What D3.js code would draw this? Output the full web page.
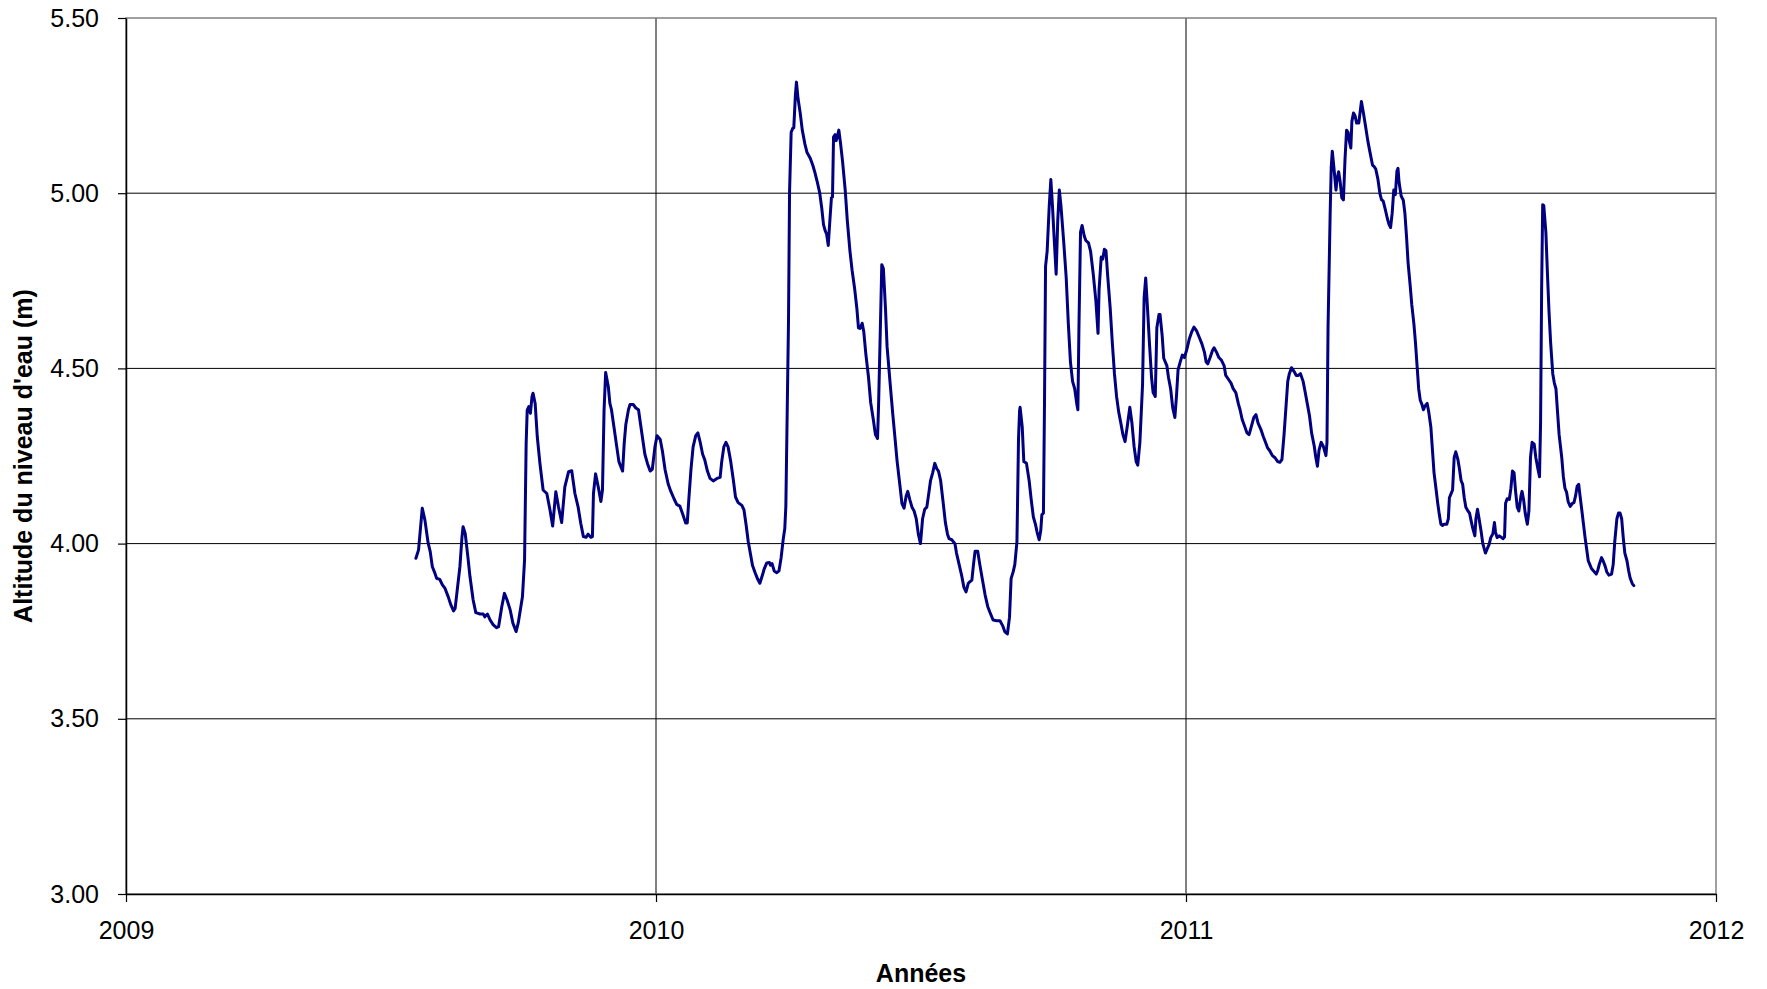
<!DOCTYPE html>
<html><head><meta charset="utf-8">
<script src="https://cdn.jsdelivr.net/npm/d3@7"></script>
<style>html,body{margin:0;padding:0;background:#fff;} svg{display:block;font-family:"Liberation Sans",Arial,sans-serif;}</style>
</head><body><svg id="chart" width="1767" height="989"></svg>
<script>
const dates = [
2009.547,2009.552,2009.559,2009.564,2009.570,2009.574,2009.578,2009.583,2009.586,2009.592,
2009.597,2009.602,2009.608,2009.613,2009.618,2009.621,2009.625,2009.630,2009.634,2009.636,
2009.640,2009.645,2009.649,2009.655,2009.660,2009.668,2009.674,2009.677,2009.682,2009.687,
2009.693,2009.699,2009.703,2009.709,2009.714,2009.719,2009.725,2009.730,2009.736,2009.740,
2009.745,2009.748,2009.752,2009.755,2009.757,2009.760,2009.763,2009.766,2009.768,2009.772,
2009.776,2009.781,2009.787,2009.794,2009.800,2009.805,2009.811,2009.816,2009.822,2009.828,
2009.835,2009.841,2009.847,2009.853,2009.858,2009.863,2009.868,2009.872,2009.877,2009.880,
2009.882,2009.886,2009.891,2009.896,2009.899,2009.902,2009.905,2009.910,2009.913,2009.916,
2009.921,2009.926,2009.930,2009.934,2009.937,2009.940,2009.943,2009.948,2009.951,2009.957,
2009.962,2009.967,2009.971,2009.975,2009.979,2009.984,2009.989,2009.993,2009.998,2010.002,
2010.008,2010.012,2010.017,2010.023,2010.028,2010.034,2010.039,2010.045,2010.050,2010.056,
2010.059,2010.062,2010.066,2010.070,2010.075,2010.079,2010.083,2010.088,2010.092,2010.097,
2010.102,2010.108,2010.115,2010.121,2010.124,2010.128,2010.132,2010.136,2010.141,2010.146,
2010.150,2010.155,2010.162,2010.166,2010.170,2010.174,2010.179,2010.182,2010.187,2010.192,
2010.196,2010.201,2010.204,2010.209,2010.214,2010.216,2010.219,2010.223,2010.228,2010.232,
2010.236,2010.240,2010.243,2010.245,2010.247,2010.250,2010.252,2010.255,2010.258,2010.260,
2010.263,2010.265,2010.268,2010.272,2010.276,2010.281,2010.285,2010.291,2010.296,2010.300,
2010.304,2010.309,2010.313,2010.316,2010.319,2010.322,2010.325,2010.328,2010.331,2010.333,
2010.335,2010.338,2010.340,2010.343,2010.345,2010.348,2010.352,2010.357,2010.361,2010.366,
2010.370,2010.375,2010.379,2010.382,2010.385,2010.389,2010.392,2010.396,2010.401,2010.405,
2010.410,2010.414,2010.418,2010.420,2010.423,2010.426,2010.429,2010.433,2010.436,2010.442,
2010.447,2010.451,2010.455,2010.460,2010.464,2010.468,2010.472,2010.475,2010.479,2010.483,
2010.487,2010.491,2010.495,2010.499,2010.503,2010.507,2010.511,2010.515,2010.518,2010.522,
2010.526,2010.530,2010.533,2010.537,2010.542,2010.546,2010.550,2010.553,2010.558,2010.564,
2010.567,2010.572,2010.577,2010.581,2010.585,2010.589,2010.592,2010.596,2010.599,2010.602,
2010.607,2010.611,2010.616,2010.621,2010.626,2010.630,2010.636,2010.643,2010.649,2010.654,
2010.658,2010.663,2010.667,2010.670,2010.674,2010.677,2010.681,2010.682,2010.684,2010.686,
2010.687,2010.691,2010.694,2010.699,2010.704,2010.708,2010.712,2010.716,2010.719,2010.723,
2010.726,2010.728,2010.731,2010.733,2010.735,2010.738,2010.742,2010.745,2010.748,2010.751,
2010.755,2010.758,2010.761,2010.764,2010.769,2010.774,2010.778,2010.782,2010.786,2010.790,
2010.794,2010.796,2010.798,2010.801,2010.804,2010.808,2010.811,2010.816,2010.820,2010.825,
2010.830,2010.834,2010.836,2010.840,2010.843,2010.846,2010.849,2010.852,2010.857,2010.861,
2010.865,2010.869,2010.873,2010.877,2010.881,2010.885,2010.889,2010.894,2010.898,2010.902,
2010.906,2010.909,2010.913,2010.918,2010.921,2010.924,2010.927,2010.931,2010.935,2010.938,
2010.942,2010.945,2010.949,2010.951,2010.955,2010.958,2010.964,2010.967,2010.971,2010.975,
2010.979,2010.982,2010.985,2010.989,2010.993,2010.997,2011.001,2011.006,2011.011,2011.015,
2011.020,2011.025,2011.030,2011.035,2011.038,2011.041,2011.045,2011.050,2011.053,2011.058,
2011.062,2011.067,2011.072,2011.075,2011.080,2011.085,2011.089,2011.094,2011.099,2011.102,
2011.106,2011.110,2011.115,2011.119,2011.124,2011.128,2011.132,2011.136,2011.141,2011.146,
2011.150,2011.154,2011.158,2011.163,2011.168,2011.173,2011.177,2011.181,2011.185,2011.189,
2011.192,2011.195,2011.199,2011.204,2011.208,2011.212,2011.216,2011.221,2011.225,2011.229,
2011.233,2011.237,2011.242,2011.245,2011.248,2011.251,2011.255,2011.259,2011.264,2011.266,
2011.268,2011.272,2011.274,2011.276,2011.279,2011.283,2011.285,2011.288,2011.291,2011.294,
2011.297,2011.300,2011.303,2011.306,2011.308,2011.311,2011.313,2011.316,2011.319,2011.322,
2011.326,2011.331,2011.335,2011.339,2011.343,2011.347,2011.352,2011.355,2011.358,2011.362,
2011.366,2011.369,2011.372,2011.376,2011.380,2011.383,2011.386,2011.389,2011.392,2011.395,
2011.398,2011.400,2011.402,2011.406,2011.410,2011.413,2011.416,2011.419,2011.423,2011.426,
2011.430,2011.433,2011.436,2011.439,2011.442,2011.445,2011.448,2011.451,2011.455,2011.458,
2011.462,2011.465,2011.468,2011.472,2011.475,2011.478,2011.481,2011.484,2011.487,2011.492,
2011.495,2011.497,2011.500,2011.503,2011.506,2011.509,2011.513,2011.516,2011.519,2011.522,
2011.525,2011.528,2011.532,2011.535,2011.538,2011.541,2011.545,2011.547,2011.550,2011.553,
2011.557,2011.560,2011.565,2011.568,2011.572,2011.575,2011.579,2011.582,2011.584,2011.587,
2011.591,2011.594,2011.598,2011.601,2011.603,2011.606,2011.610,2011.613,2011.616,2011.619,
2011.622,2011.625,2011.628,2011.632,2011.634,2011.637,2011.640,2011.644,2011.647,2011.650,
2011.653,2011.657,2011.660,2011.664,2011.667,2011.669,2011.671,2011.673,2011.675,2011.679,
2011.682,2011.685,2011.688,2011.692,2011.695,2011.698,2011.701,2011.704,2011.709,2011.712,
2011.715,2011.718,2011.721,2011.725,2011.729,2011.732,2011.735,2011.738,2011.741,2011.743,
2011.747,2011.750,2011.753,2011.756,2011.759,2011.762,2011.765,2011.770,2011.774,2011.777,
2011.780,2011.784,2011.787,2011.791,2011.794,2011.798,2011.803,2011.806,2011.809,2011.813,
2011.816,2011.819,2011.822,2011.825,2011.828,2011.832,2011.835,2011.838,2011.842,2011.845
];
const levels = [
3.958,3.982,4.101,4.067,4.002,3.977,3.934,3.915,3.901,3.898,
3.882,3.872,3.848,3.825,3.808,3.815,3.868,3.934,4.020,4.048,
4.029,3.963,3.906,3.839,3.803,3.799,3.799,3.791,3.799,3.782,
3.768,3.760,3.763,3.820,3.858,3.839,3.810,3.773,3.749,3.773,
3.820,3.848,3.953,4.286,4.381,4.391,4.372,4.419,4.429,4.400,
4.305,4.229,4.153,4.143,4.096,4.050,4.148,4.105,4.060,4.162,
4.205,4.208,4.143,4.105,4.058,4.020,4.018,4.027,4.018,4.020,
4.143,4.199,4.162,4.120,4.153,4.381,4.488,4.448,4.400,4.382,
4.329,4.276,4.234,4.218,4.207,4.286,4.339,4.382,4.397,4.397,
4.387,4.382,4.339,4.297,4.255,4.228,4.207,4.212,4.276,4.308,
4.297,4.265,4.212,4.170,4.149,4.128,4.112,4.107,4.086,4.059,
4.059,4.128,4.212,4.276,4.308,4.316,4.292,4.255,4.239,4.207,
4.186,4.179,4.186,4.189,4.234,4.276,4.289,4.276,4.234,4.181,
4.133,4.117,4.109,4.096,4.054,4.006,3.964,3.938,3.917,3.898,
3.887,3.911,3.927,3.945,3.946,3.938,3.943,3.922,3.917,3.922,
3.959,4.012,4.043,4.107,4.318,4.635,5.005,5.174,5.185,5.187,
5.280,5.317,5.270,5.230,5.180,5.140,5.116,5.100,5.079,5.058,
5.034,5.000,4.954,4.911,4.894,4.883,4.851,4.921,4.987,4.989,
5.161,5.167,5.150,5.167,5.180,5.145,5.091,5.009,4.921,4.834,
4.780,4.725,4.671,4.616,4.614,4.629,4.605,4.540,4.474,4.403,
4.354,4.311,4.300,4.398,4.594,4.796,4.785,4.671,4.562,4.453,
4.365,4.300,4.234,4.169,4.115,4.101,4.136,4.149,4.125,4.104,
4.093,4.071,4.027,4.000,4.071,4.098,4.104,4.147,4.180,4.202,
4.229,4.213,4.207,4.180,4.115,4.060,4.027,4.014,4.011,4.000,
3.973,3.940,3.907,3.875,3.862,3.886,3.891,3.896,3.940,3.978,
3.978,3.940,3.896,3.853,3.820,3.804,3.782,3.780,3.780,3.766,
3.749,3.742,3.790,3.900,3.920,3.940,4.005,4.100,4.300,4.380,
4.389,4.333,4.234,4.229,4.180,4.125,4.076,4.055,4.033,4.011,
4.038,4.082,4.087,4.398,4.791,4.834,4.965,5.039,4.965,4.878,
4.769,4.921,5.009,4.965,4.867,4.758,4.627,4.518,4.463,4.442,
4.398,4.382,4.616,4.889,4.908,4.878,4.865,4.858,4.834,4.769,
4.692,4.600,4.725,4.818,4.812,4.840,4.836,4.769,4.671,4.573,
4.485,4.420,4.376,4.344,4.311,4.291,4.333,4.389,4.344,4.278,
4.234,4.224,4.289,4.453,4.703,4.758,4.682,4.573,4.474,4.431,
4.420,4.616,4.654,4.654,4.594,4.529,4.507,4.474,4.442,4.387,
4.360,4.420,4.496,4.518,4.538,4.531,4.551,4.583,4.605,4.618,
4.607,4.589,4.570,4.545,4.518,4.513,4.529,4.551,4.559,4.545,
4.531,4.523,4.507,4.480,4.469,4.458,4.442,4.431,4.398,4.382,
4.354,4.338,4.316,4.311,4.338,4.360,4.368,4.344,4.327,4.305,
4.289,4.273,4.265,4.251,4.245,4.234,4.232,4.240,4.311,4.398,
4.463,4.485,4.502,4.491,4.480,4.480,4.485,4.463,4.431,4.398,
4.365,4.316,4.278,4.245,4.221,4.267,4.289,4.278,4.251,4.289,
4.616,4.943,5.074,5.120,5.074,5.009,5.041,5.061,5.031,4.987,
4.981,5.096,5.180,5.173,5.150,5.129,5.205,5.229,5.221,5.200,
5.200,5.262,5.227,5.189,5.150,5.118,5.080,5.076,5.069,5.041,
4.998,4.981,4.978,4.954,4.927,4.911,4.902,4.943,5.009,4.996,
5.063,5.071,5.031,4.992,4.980,4.943,4.878,4.802,4.736,4.682,
4.627,4.573,4.507,4.442,4.409,4.398,4.382,4.393,4.400,4.376,
4.333,4.267,4.202,4.153,4.115,4.082,4.055,4.052,4.055,4.055,
4.071,4.131,4.142,4.153,4.246,4.262,4.240,4.213,4.180,4.169,
4.131,4.104,4.093,4.087,4.065,4.044,4.022,4.071,4.098,4.071,
4.033,4.000,3.973,3.984,3.998,4.017,4.028,4.060,4.033,4.017,
4.022,4.019,4.014,4.019,4.115,4.128,4.126,4.158,4.207,4.202,
4.147,4.104,4.093,4.136,4.149,4.125,4.087,4.055,4.093,4.246,
4.289,4.284,4.246,4.213,4.191,4.344,4.725,4.967,4.965,4.889,
4.769,4.660,4.573,4.485,4.458,4.442,4.376,4.311,4.245,4.191,
4.158,4.147,4.120,4.106,4.115,4.117,4.136,4.164,4.169,4.142,
4.093,4.055,4.017,3.984,3.951,3.940,3.929,3.920,3.913,3.924,
3.942,3.960,3.951,3.935,3.919,3.910,3.913,3.940,4.006,4.071,
4.087,4.087,4.071,4.017,3.973,3.951,3.924,3.902,3.886,3.880
];
const yTicks = [3.0, 3.5, 4.0, 4.5, 5.0, 5.5];
const xTicks = [2009, 2010, 2011, 2012];
const xTitle = "Années";
const yTitle = "Altitude du niveau d'eau (m)";

const svg = d3.select('#chart');
const L = 126, R = 1716, T = 18, B = 894;
const x = d3.scaleLinear().domain([2009, 2012]).range([L, R]);
const y = d3.scaleLinear().domain([3, 5.5]).range([B, T]);
const FONT = '"Liberation Sans", Arial, sans-serif';

// gridlines
svg.append('g').selectAll('line').data(yTicks.slice(1, -1)).join('line')
  .attr('x1', L).attr('x2', R).attr('y1', d => y(d)).attr('y2', d => y(d))
  .attr('stroke', '#000').attr('stroke-width', 1);
svg.append('g').selectAll('line').data(xTicks.slice(1, -1)).join('line')
  .attr('y1', T).attr('y2', B).attr('x1', d => x(d)).attr('x2', d => x(d))
  .attr('stroke', '#000').attr('stroke-width', 1);

// plot frame
svg.append('rect').attr('x', L).attr('y', T).attr('width', R - L).attr('height', B - T)
  .attr('fill', 'none').attr('stroke', '#808080').attr('stroke-width', 1.5);

// axes
const ya = svg.append('g').attr('transform', `translate(${L},0)`)
  .call(d3.axisLeft(y).tickValues(yTicks).tickFormat(d3.format('.2f')).tickSizeInner(8).tickSizeOuter(0).tickPadding(19));
const xa = svg.append('g').attr('transform', `translate(0,${B})`)
  .call(d3.axisBottom(x).tickValues(xTicks).tickFormat(d3.format('d')).tickSizeInner(8).tickSizeOuter(0).tickPadding(19));
[ya, xa].forEach(g => {
  g.attr('font-family', FONT).attr('font-size', 25);
  g.selectAll('text').attr('fill', '#000');
  g.selectAll('line').attr('stroke', '#000').attr('stroke-width', 1.2);
  g.select('.domain').attr('stroke', '#000').attr('stroke-width', 1.5);
});

// data line
const pts = d3.zip(dates, levels);
svg.append('path').datum(pts)
  .attr('fill', 'none').attr('stroke', '#000080').attr('stroke-width', 3)
  .attr('stroke-linejoin', 'round').attr('stroke-linecap', 'round')
  .attr('d', d3.line().x(d => x(d[0])).y(d => y(d[1])));

// titles
svg.append('text').attr('x', (L + R) / 2).attr('y', 982)
  .attr('text-anchor', 'middle').attr('font-family', FONT).attr('font-size', 25)
  .attr('font-weight', 'bold').text(xTitle);
svg.append('text').attr('transform', `translate(32,${(T + B) / 2}) rotate(-90)`)
  .attr('text-anchor', 'middle').attr('font-family', FONT).attr('font-size', 25)
  .attr('font-weight', 'bold').text(yTitle);
</script>
</body></html>
